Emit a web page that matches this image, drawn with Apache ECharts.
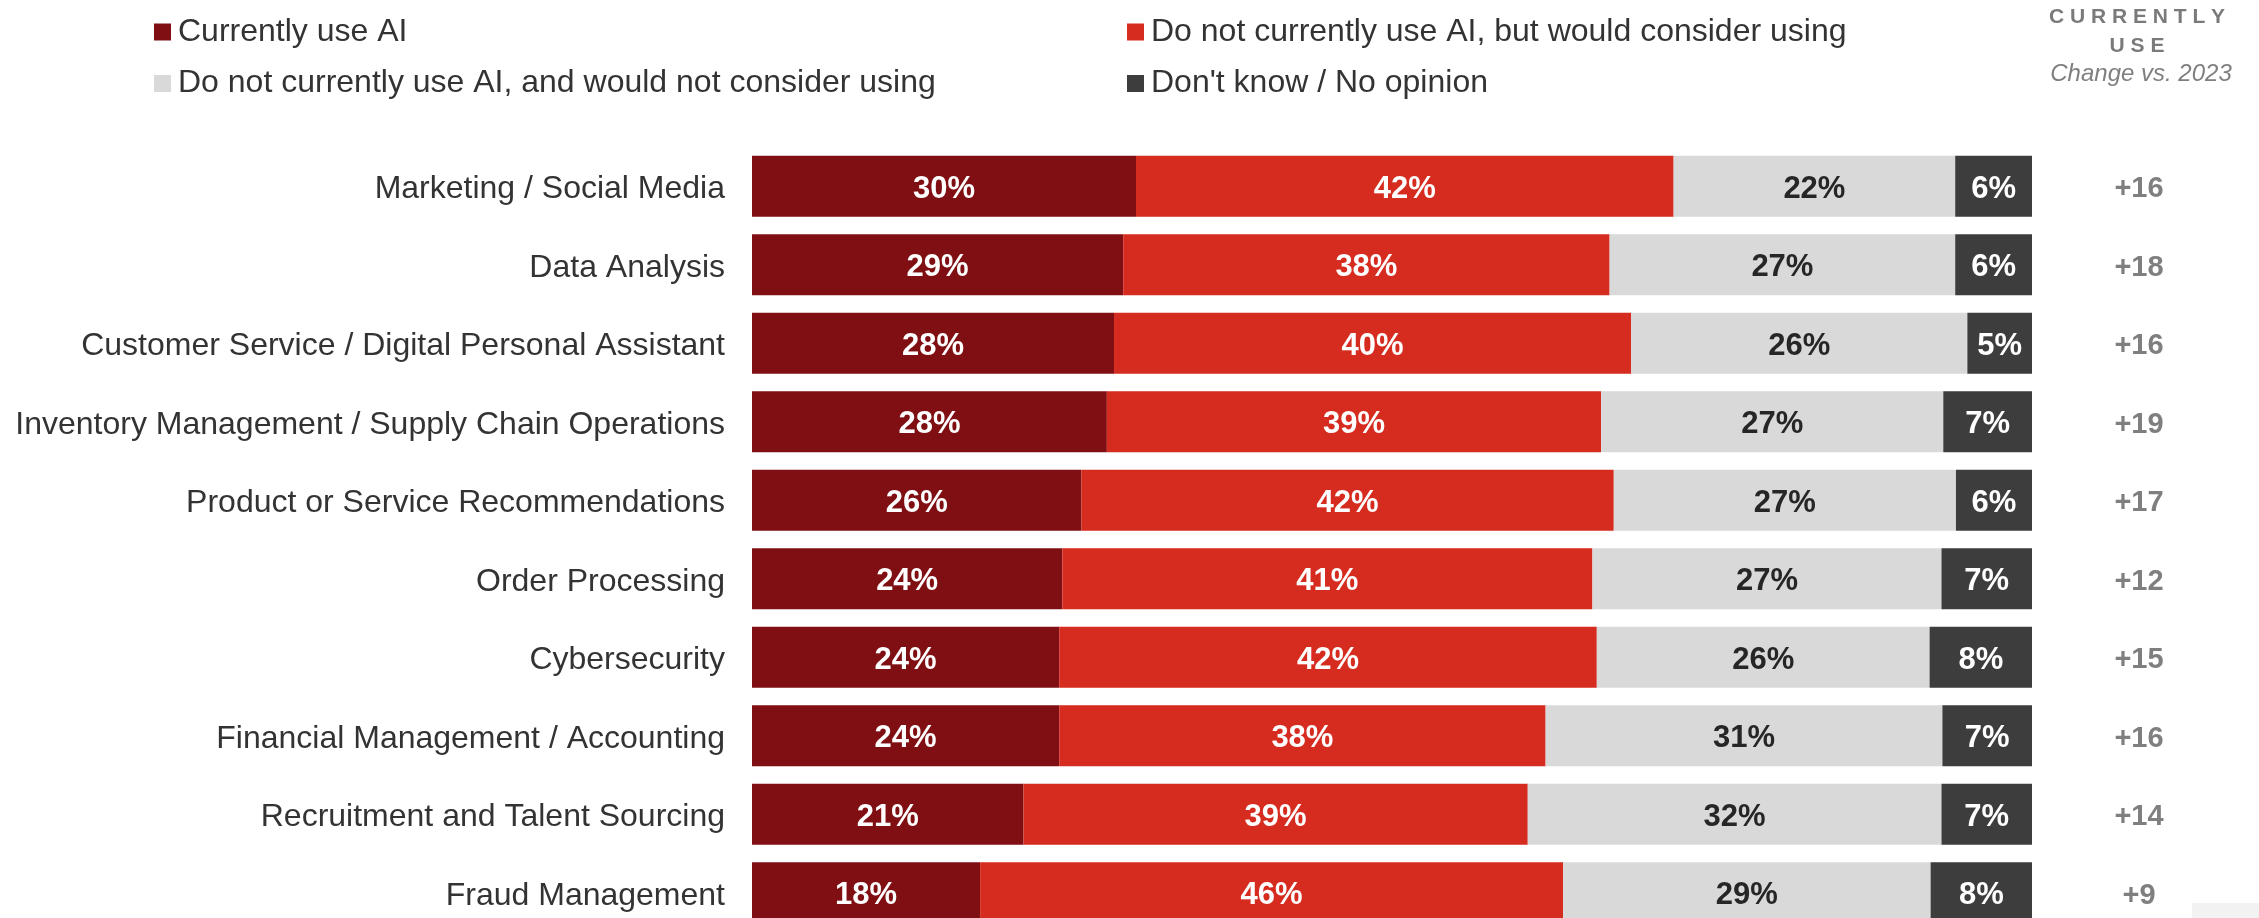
<!DOCTYPE html>
<html>
<head>
<meta charset="utf-8">
<title>AI use by business function</title>
<script src="https://cdn.jsdelivr.net/npm/echarts@6/dist/echarts.min.js"></script>
<style>
  html, body { margin: 0; padding: 0; background: #ffffff; }
  #chart { width: 2259px; height: 918px; }
</style>
</head>
<body>
<div id="chart"></div>
<script>
// Business functions, top to bottom
const categories = [
  'Marketing / Social Media',
  'Data Analysis',
  'Customer Service / Digital Personal Assistant',
  'Inventory Management / Supply Chain Operations',
  'Product or Service Recommendations',
  'Order Processing',
  'Cybersecurity',
  'Financial Management / Accounting',
  'Recruitment and Talent Sourcing',
  'Fraud Management'
];

const seriesNames = [
  'Currently use AI',
  'Do not currently use AI, but would consider using',
  'Do not currently use AI, and would not consider using',
  "Don't know / No opinion"
];

// Share of respondents (%) per answer
const currentlyUse   = [30, 29, 28, 28, 26, 24, 24, 24, 21, 18];
const wouldConsider  = [42, 38, 40, 39, 42, 41, 42, 38, 39, 46];
const wouldNot       = [22, 27, 26, 27, 27, 27, 26, 31, 32, 29];
const dontKnow       = [6, 6, 5, 7, 6, 7, 8, 7, 7, 8];

// Change in "currently use" vs. 2023 (percentage points)
const changeVs2023   = [16, 18, 16, 19, 17, 12, 15, 16, 14, 9];

const colors = ['#7F0F13', '#D62B1F', '#D9D9D9', '#3D3D3D'];
const labelColors = ['#FFFFFF', '#FFFFFF', '#262626', '#FFFFFF'];
const FONT = "'Liberation Sans', Arial, Helvetica, sans-serif";

const rawSets = [currentlyUse, wouldConsider, wouldNot, dontKnow];
// Each bar is drawn as a full 100% stack, so rounded shares are scaled by their row total
const rowTotals = categories.map((_, i) => rawSets.reduce((s, arr) => s + arr[i], 0));

const series = rawSets.map((arr, k) => ({
  name: seriesNames[k],
  type: 'bar',
  stack: 'total',
  barWidth: 61,
  itemStyle: { color: colors[k] },
  label: {
    show: true,
    position: 'inside',
    offset: [0, 3],
    color: labelColors[k],
    fontFamily: FONT,
    fontWeight: 'bold',
    fontSize: 31,
    formatter: p => arr[p.dataIndex] + '%'
  },
  emphasis: { disabled: true },
  data: arr.map((v, i) => v / rowTotals[i] * 100)
}));

const legendCommon = {
  orient: 'vertical',
  icon: 'rect',
  itemWidth: 17,
  itemHeight: 17,
  itemGap: 15.5,
  padding: 0,
  selectedMode: false,
  textStyle: {
    fontFamily: FONT,
    fontSize: 32,
    lineHeight: 34,
    color: '#333333',
    padding: [2, 0, 0, 2]
  }
};

// A thin spacer line above each axis label nudges the text slightly down
const spacerRich = { s: { fontSize: 1, lineHeight: 6 } };

const chart = echarts.init(document.getElementById('chart'), null, { renderer: 'canvas' });

chart.setOption({
  animation: false,
  backgroundColor: '#ffffff',
  legend: [
    Object.assign({}, legendCommon, { left: 154, top: 14, data: [seriesNames[0], seriesNames[2]] }),
    Object.assign({}, legendCommon, { left: 1127, top: 14, data: [seriesNames[1], seriesNames[3]] })
  ],
  grid: {
    left: 752,
    top: 147,
    width: 1280,
    height: 785,
    containLabel: false,
    outerBoundsMode: 'none'
  },
  xAxis: {
    type: 'value',
    min: 0,
    max: 100,
    show: false
  },
  yAxis: [
    {
      type: 'category',
      data: categories,
      inverse: true,
      axisLine: { show: false },
      axisTick: { show: false },
      splitLine: { show: false },
      axisLabel: {
        margin: 27,
        formatter: v => '{s| }\n{t|' + v + '}',
        rich: Object.assign({
          t: { fontFamily: FONT, fontSize: 32, lineHeight: 34, color: '#333333' }
        }, spacerRich)
      }
    },
    {
      type: 'category',
      data: categories,
      inverse: true,
      position: 'right',
      axisLine: { show: false },
      axisTick: { show: false },
      splitLine: { show: false },
      axisLabel: {
        margin: 107,
        align: 'center',
        formatter: (v, i) => '{s| }\n{t|+' + changeVs2023[i] + '}',
        rich: Object.assign({
          t: { fontFamily: FONT, fontSize: 29, lineHeight: 32, fontWeight: 'bold', color: '#7F7F7F' }
        }, spacerRich)
      }
    }
  ],
  graphic: [
    {
      type: 'text',
      x: 2137, y: 17,
      style: {
        text: 'C U R R E N T L Y',
        fontFamily: FONT, fontSize: 21, fontWeight: 'bold',
        fill: '#7A7A7A', align: 'center', verticalAlign: 'middle'
      }
    },
    {
      type: 'text',
      x: 2137, y: 46,
      style: {
        text: 'U S E',
        fontFamily: FONT, fontSize: 21, fontWeight: 'bold',
        fill: '#7A7A7A', align: 'center', verticalAlign: 'middle'
      }
    },
    {
      type: 'text',
      x: 2141, y: 74,
      style: {
        text: 'Change vs. 2023',
        fontFamily: FONT, fontSize: 24, fontStyle: 'italic',
        fill: '#7F7F7F', align: 'center', verticalAlign: 'middle'
      }
    },
    {
      type: 'rect',
      shape: { x: 2192, y: 903, width: 67, height: 15 },
      style: { fill: '#F2F2F2' }
    }
  ],
  series: series
});
</script>
</body>
</html>
